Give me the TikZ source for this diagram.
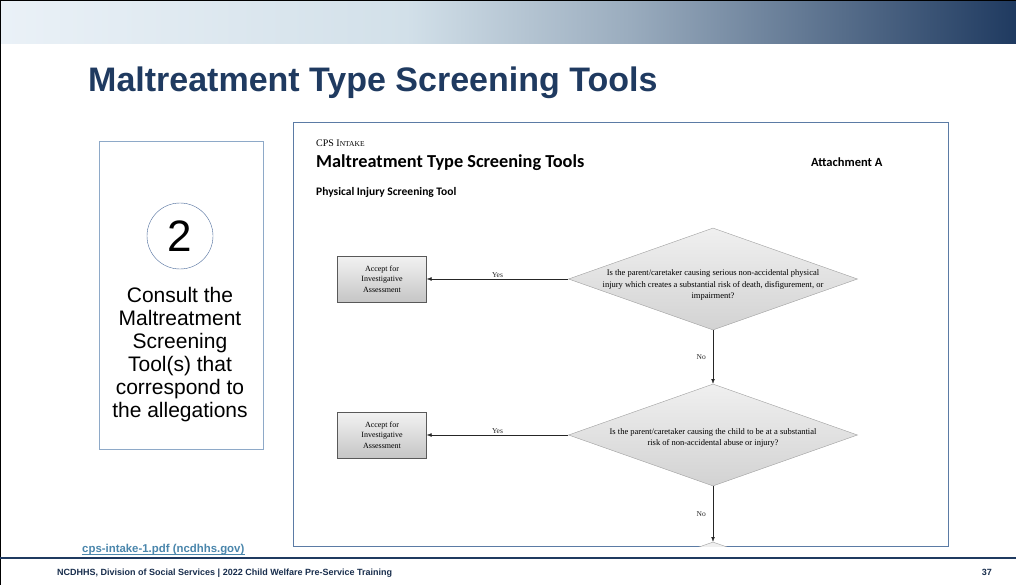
\documentclass[tikz,border=0pt]{standalone}
\usepackage{fontspec}
\setmainfont{Liberation Sans}
\newfontfamily\docserif{Liberation Serif}
\newfontfamily\calib{Carlito}
\usepackage{tikz}
\usetikzlibrary{arrows.meta,positioning,shapes.geometric}
\usepackage{xcolor}
\definecolor{navy}{HTML}{1F3A60}
\definecolor{bandA}{HTML}{EAF1F7}
\definecolor{bandB}{HTML}{D2E0E9}
\definecolor{bandC}{HTML}{9AACBE}
\definecolor{boxline}{HTML}{8EA9C8}
\definecolor{ringline}{HTML}{4A6A9A}
\definecolor{docline}{HTML}{5B7BA5}
\definecolor{linkblue}{HTML}{4A86AC}
\pgfdeclarehorizontalshading{bandshade}{100bp}{color(0bp)=(bandA); color(25bp)=(bandA); color(45bp)=(bandB); color(56bp)=(bandC); color(75bp)=(navy); color(100bp)=(navy)}

\begin{document}
\begin{tikzpicture}[x=1pt,y=-1pt,>=Latex,
  accbox/.style={draw=gray!70!black,top color=gray!10,bottom color=gray!45,minimum width=89pt,minimum height=46pt,inner sep=0pt,align=center,font=\docserif\fontsize{8}{10.5}\selectfont},
  question/.style={diamond,draw=gray!75,top color=gray!12,bottom color=gray!35,minimum width=289pt,minimum height=102pt,inner sep=0pt},
  qtext/.style={align=center,inner sep=0pt,font=\docserif\fontsize{8.5}{11.5}\selectfont},
  lbl/.style={inner sep=1pt,font=\docserif\fontsize{7.5}{9}\selectfont}]
\useasboundingbox (0,0) rectangle (1016,585);
% slide background
\fill[white] (0,0) rectangle (1016,585);
\shade[shading=bandshade] (0,0) rectangle (1016,44);
\draw[black,line width=1.2pt] (0.6,585) -- (0.6,0.6) -- (1016,0.6);
\node[anchor=base west,inner sep=0pt,text=navy,font=\bfseries\fontsize{34}{34}\selectfont] (Title) at (88,92) {Maltreatment Type Screening Tools};
% step box
\node[draw=boxline,minimum width=164pt,minimum height=308pt] (Step) at (181,295) {};
\node[circle,draw=ringline,minimum size=66pt,inner sep=0pt,font=\fontsize{44}{44}\selectfont] (Num) at (180,236) {2};
\node[anchor=north,align=center,inner sep=0pt,font=\fontsize{21}{23}\selectfont] (StepText) at (180,287) {Consult the\\Maltreatment\\Screening\\Tool(s) that\\correspond to\\the allegations};
% document excerpt
\node[draw=docline,minimum width=655pt,minimum height=424pt] (Doc) at (620.5,334) {};
\node[anchor=base west,inner sep=0pt,font=\docserif\fontsize{10}{10}\selectfont] (Intake) at (316,147) {CPS I{\fontsize{7.5}{7.5}\selectfont NTAKE}};
\node[anchor=base west,inner sep=0pt,font=\calib\bfseries\fontsize{18.3}{18.3}\selectfont] (DocTitle) at (316,168) {Maltreatment Type Screening Tools};
\node[anchor=base west,inner sep=0pt,font=\calib\bfseries\fontsize{12.5}{12.5}\selectfont] (Attach) at (811,167) {Attachment A};
\node[anchor=base west,inner sep=0pt,font=\calib\bfseries\fontsize{11.5}{11.5}\selectfont] (Tool) at (316,196) {Physical Injury Screening Tool};
\node[accbox] (A1) at (382,279) {Accept for\\Investigative\\Assessment};
\node[question] (Q1) at (713,279) {};
\node[qtext] (Q1t) at (713,285) {Is the parent/caretaker causing serious non-accidental physical\\injury which creates a substantial risk of death, disfigurement, or\\impairment?};
\node[accbox] (A2) at (382,435) {Accept for\\Investigative\\Assessment};
\node[question] (Q2) at (713,435) {};
\node[qtext] (Q2t) at (713,438) {Is the parent/caretaker causing the child to be at a substantial\\risk of non-accidental abuse or injury?};
\begin{scope}
\clip (Doc.south west) rectangle (Doc.north east);
\node[question] (Q3) at (713,593) {};
\end{scope}
\draw[->,gray!30!black] (Q1.west) -- node[lbl,above]{Yes} (A1.east);
\draw[->,gray!30!black] (Q1.south) -- node[lbl,left=6pt]{No} (Q2.north);
\draw[->,gray!30!black] (Q2.west) -- node[lbl,above]{Yes} (A2.east);
\draw[->,gray!30!black] (Q2.south) -- node[lbl,left=6pt]{No} (Q3.north);
% footer
\node[anchor=base west,inner sep=0pt,text=linkblue,font=\bfseries\fontsize{11.4}{11.4}\selectfont] (Link) at (82,552) {cps-intake-1.pdf (ncdhhs.gov)};
\draw[linkblue,line width=0.8pt] ([yshift=-2pt]Link.base west) -- ([yshift=-2pt]Link.base east);
\draw[navy,line width=2pt] (0,558) -- (1016,558);
\node[anchor=base west,inner sep=0pt,text=navy!80!black,font=\bfseries\fontsize{9}{9}\selectfont] (Foot) at (57,575) {NCDHHS, Division of Social Services | 2022 Child Welfare Pre-Service Training};
\node[anchor=base east,inner sep=0pt,text=navy!80!black,font=\bfseries\fontsize{9}{9}\selectfont] (Page) at (992,575) {37};
\end{tikzpicture}
\end{document}
